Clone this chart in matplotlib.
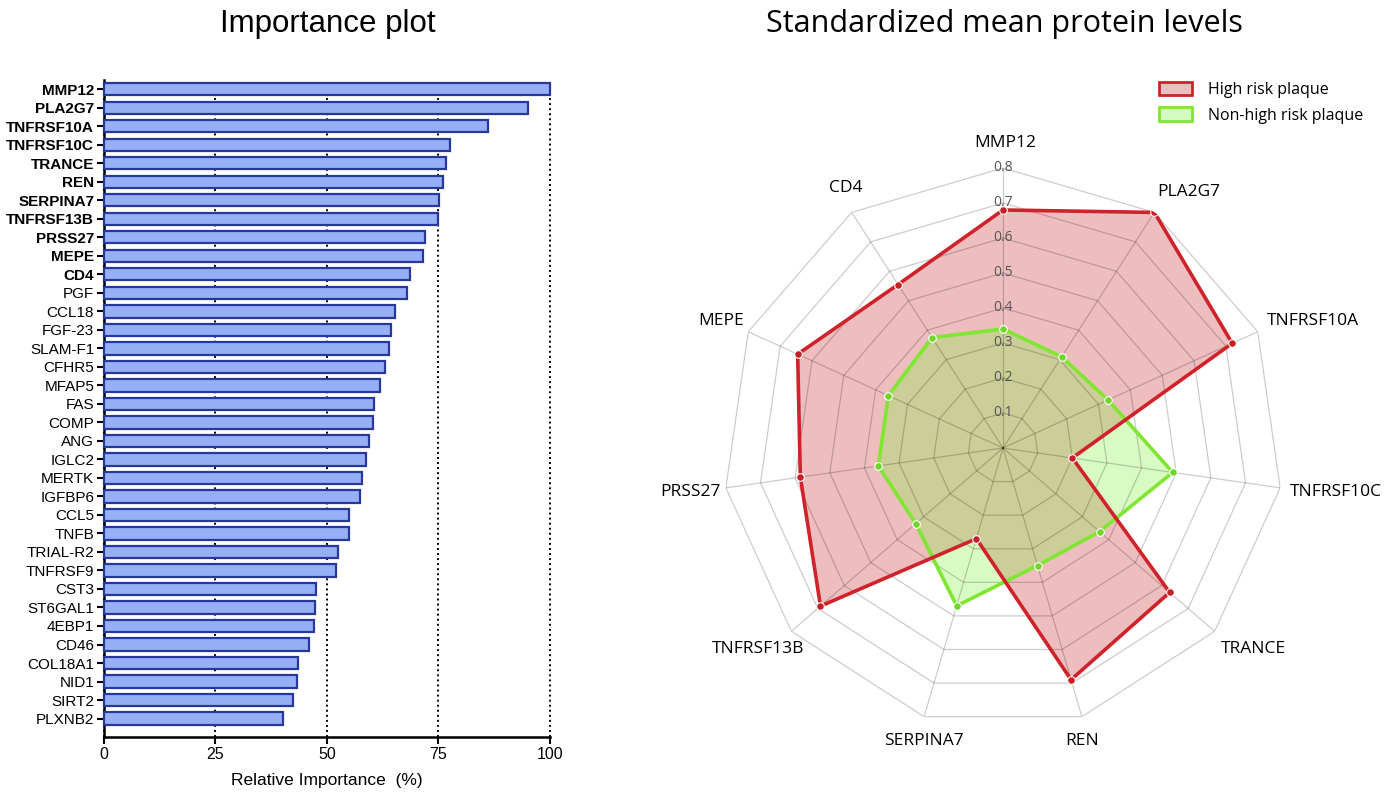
import matplotlib
matplotlib.use('Agg')
import matplotlib.pyplot as plt
from matplotlib.patches import Patch
import numpy as np

# importance plot data
genes = ['MMP12', 'PLA2G7', 'TNFRSF10A', 'TNFRSF10C', 'TRANCE', 'REN', 'SERPINA7',
         'TNFRSF13B', 'PRSS27', 'MEPE', 'CD4', 'PGF', 'CCL18', 'FGF-23', 'SLAM-F1',
         'CFHR5', 'MFAP5', 'FAS', 'COMP', 'ANG', 'IGLC2', 'MERTK', 'IGFBP6', 'CCL5',
         'TNFB', 'TRIAL-R2', 'TNFRSF9', 'CST3', 'ST6GAL1', '4EBP1', 'CD46', 'COL18A1',
         'NID1', 'SIRT2', 'PLXNB2']
importance = [100.0, 95.0, 86.0, 77.7, 76.7, 76.0, 75.2, 74.8, 72.0, 71.6, 68.6, 68.0,
              65.2, 64.3, 64.0, 63.0, 62.0, 60.6, 60.4, 59.4, 58.8, 57.9, 57.4, 54.9,
              54.9, 52.5, 52.0, 47.6, 47.3, 47.0, 46.0, 43.4, 43.3, 42.3, 40.2]
n_bold = 11

# radar data
radar_labels = ['MMP12', 'PLA2G7', 'TNFRSF10A', 'TNFRSF10C', 'TRANCE', 'REN',
                'SERPINA7', 'TNFRSF13B', 'PRSS27', 'MEPE', 'CD4']
high_risk = [0.68, 0.80, 0.72, 0.20, 0.63, 0.69, 0.27, 0.69, 0.585, 0.645, 0.555]
non_high_risk = [0.34, 0.31, 0.33, 0.49, 0.365, 0.35, 0.47, 0.33, 0.36, 0.36, 0.375]
rings = [0.1, 0.2, 0.3, 0.4, 0.5, 0.6, 0.7, 0.8]

fig = plt.figure(figsize=(13.99, 7.92), dpi=100)

# ---------- left: bar chart ----------
ax = fig.add_axes([0.0743, 0.0694, 0.3188, 0.8295])
y = np.arange(len(genes))
ax.barh(y, importance, height=0.66, color='#97b0f5', edgecolor='#26399a',
        linewidth=1.6, clip_on=False, zorder=3)
ax.set_ylim(35.0, -0.5)
ax.set_xlim(0, 100)
ax.set_xticks([0, 25, 50, 75, 100])
ax.set_yticks(y)
ax.set_yticklabels(genes, fontfamily='Liberation Sans', fontsize=11)
for i, lab in enumerate(ax.get_yticklabels()):
    if i < n_bold:
        lab.set_fontweight('bold')
for lab in ax.get_xticklabels():
    lab.set_fontfamily('Liberation Sans')
    lab.set_fontsize(11.5)
ax.tick_params(axis='y', length=5, width=1.5, pad=2)
ax.tick_params(axis='x', length=5, width=1.5, pad=2)
ax.xaxis.grid(True, linestyle=(0, (1, 1.6)), color='black', linewidth=1.4)
for gl in ax.get_xgridlines():
    gl.set_clip_on(False)
ax.set_axisbelow(True)
for s in ['top', 'right']:
    ax.spines[s].set_visible(False)
for s in ['left', 'bottom']:
    ax.spines[s].set_linewidth(1.8)
ax.set_xlabel('Relative Importance  (%)', fontfamily='Liberation Sans', fontsize=12.5,
              labelpad=8)
fig.text(0.234, 0.970, 'Importance plot', ha='center', va='center',
         fontfamily='Liberation Sans', fontsize=22.5)

# ---------- right: radar chart ----------
rad = fig.add_axes([0.5168, 0.0808, 0.4003, 0.7071], projection='polar')
rad.set_theta_zero_location('N')
rad.set_theta_direction(-1)
rad.set_ylim(0, 0.8)
rad.axis('off')

n = len(radar_labels)
theta = np.arange(n) * 2 * np.pi / n
theta_c = np.append(theta, theta[0])
hr = np.append(high_risk, high_risk[0])
nhr = np.append(non_high_risk, non_high_risk[0])

red = '#d0222a'
green = '#80e632'
rad.fill(theta_c, hr, color='#c8282d', alpha=0.3, lw=0, zorder=1)
rad.fill(theta_c, nhr, color='#7ff53c', alpha=0.3, lw=0, zorder=2)

for r in rings:
    rad.plot(theta_c, [r] * (n + 1), color='black', alpha=0.2, lw=0.9, zorder=3)
for t in theta:
    rad.plot([t, t], [0, 0.8], color='black', alpha=0.2, lw=0.9, zorder=3)

rad.plot(theta_c, nhr, color=green, lw=2.6, zorder=4)
rad.plot(theta, non_high_risk, 'o', color='#6fd62a', ms=5.5, mec='white', mew=0.8, zorder=5)
rad.plot(theta_c, hr, color=red, lw=2.6, zorder=6)
rad.plot(theta, high_risk, 'o', color='#c81e26', ms=5.5, mec='white', mew=0.8, zorder=7)

for r in rings:
    rad.text(0, r, f'{r:.1f}', ha='center', va='center', fontsize=10,
             fontfamily='Open Sans', color='#555555', zorder=8)

# label offsets (pixels) from outer vertex
offsets = [(2, 25), (34, 20), (55, 11), (56, -4), (39, -18), (0, -24),
           (0, -24), (-33, -18), (-35, -4), (-27, 11), (-6, 24)]
for t, lab, off in zip(theta, radar_labels, offsets):
    rad.annotate(lab, xy=(t, 0.8), xytext=off, textcoords='offset pixels',
                 ha='center', va='center', fontsize=12.5, fontfamily='Open Sans',
                 annotation_clip=False)

fig.text(0.718, 0.970, 'Standardized mean protein levels', ha='center', va='center',
         fontfamily='Open Sans', fontsize=22)

handles = [Patch(facecolor='#ebbfc0', edgecolor=red, lw=2),
           Patch(facecolor='#d4fac3', edgecolor=green, lw=2)]
fig.legend(handles, ['High risk plaque', 'Non-high risk plaque'], loc='upper right',
           bbox_to_anchor=(0.985, 0.915), frameon=False,
           prop={'family': 'Open Sans', 'size': 11.5}, handlelength=2.1,
           handleheight=0.9, handletextpad=1.0, labelspacing=0.6)

fig.savefig('out.png', dpi=100)
